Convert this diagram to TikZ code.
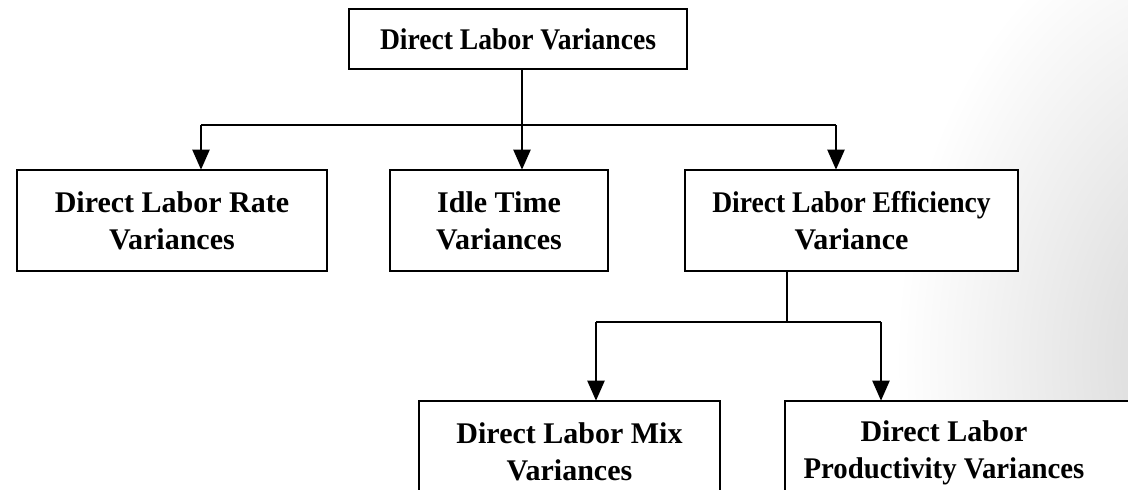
\documentclass[tikz,border=0pt]{standalone}
\usepackage{fontspec}
\setmainfont{Liberation Serif}
\usetikzlibrary{arrows.meta}
\tikzset{
  box/.style={draw=black, line width=2.6pt, fill=white, rectangle, inner sep=0pt,
              align=center, font=\bfseries\fontsize{30}{37}\selectfont},
  link/.style={draw=black, line width=2.2pt},
  arr/.style={link, -{Triangle[width=17pt,length=20pt]}, shorten >=-1pt},
  lbl/.style={align=center, inner sep=0pt, font=\bfseries\fontsize{30}{37}\selectfont}
}
\newcommand{\tight}[1]{\scalebox{0.92}[1]{#1}}
\begin{document}
\begin{tikzpicture}[x=1pt,y=-1pt]
  \useasboundingbox (0,0) rectangle (1128,490);
  \clip (0,0) rectangle (1128,490);
  \fill[white] (0,0) rectangle (1128,490);
  % soft grey shade on the right margin
  \shade[inner color=black!17, outer color=white] (1225,360) ellipse (330 and 460);

  % boxes
  \node[box, minimum width=338pt, minimum height=60pt] (top) at (518,39)
       {\tight{Direct Labor Variances}};
  \node[box, minimum width=310pt, minimum height=101pt] (rate) at (172,220.5)
       {Direct Labor Rate\\Variances};
  \node[box, minimum width=218pt, minimum height=101pt] (idle) at (499,220.5)
       {Idle Time\\Variances};
  \node[box, minimum width=333pt, minimum height=101pt] (eff) at (851.5,220.5)
       {\tight{Direct Labor Efficiency}\\Variance};
  \node[box, minimum width=301pt, minimum height=101pt] (mix) at (569.5,451.5)
       {Direct Labor Mix\\Variances};
  \node[box, minimum width=380pt, minimum height=101pt] (prod) at (975,451.5) {};
  \node[lbl] (prodtext) at (944,453)
       {Direct Labor\\\scalebox{0.96}[1]{Productivity Variances}};

  % junctions of the tree
  \coordinate (j1) at (522,125);
  \coordinate (a1) at (201,125);
  \coordinate (a3) at (836,125);
  \coordinate (j2) at (787,322);
  \coordinate (b1) at (596,322);
  \coordinate (b2) at (881,322);

  % connectors
  \draw[link] (top.south -| j1) -- (j1);
  \draw[link] (a1) -- (a3);
  \draw[arr] (a1) -- (a1 |- rate.north);
  \draw[arr] (j1) -- (j1 |- idle.north);
  \draw[arr] (a3) -- (a3 |- eff.north);
  \draw[link] (eff.south -| j2) -- (j2);
  \draw[link] (b1) -- (b2);
  \draw[arr] (b1) -- (b1 |- mix.north);
  \draw[arr] (b2) -- (b2 |- prod.north);
\end{tikzpicture}
\end{document}
